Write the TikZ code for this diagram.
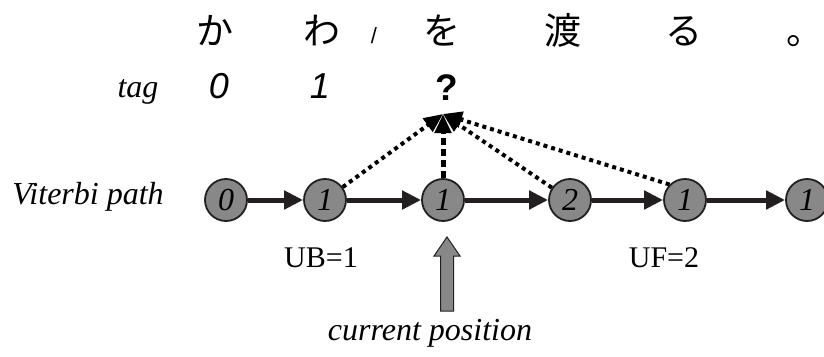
\documentclass[tikz,border=0pt]{standalone}
\usepackage{fontspec}
\setmainfont{Liberation Serif}
\setsansfont{Liberation Sans}
\newfontfamily\cjk{Noto Sans CJK JP}
\usetikzlibrary{arrows.meta}
\definecolor{statefill}{HTML}{888888}
\definecolor{edgeink}{HTML}{231F20}
\begin{document}
\begin{tikzpicture}[x=1pt,y=-1pt,
  jp/.style={anchor=base,inner sep=0pt,font=\cjk\fontsize{37}{37}\selectfont},
  tagdigit/.style={anchor=base,inner sep=0pt,font=\sffamily\itshape\fontsize{36}{36}\selectfont},
  label/.style={anchor=base,inner sep=0pt,font=\itshape\fontsize{32}{32}\selectfont},
  count/.style={anchor=base,inner sep=0pt,font=\fontsize{30}{30}\selectfont},
  state/.style={circle,draw=edgeink,line width=1.8pt,fill=statefill,minimum size=42pt,inner sep=0pt,
    font=\itshape\fontsize{32}{32}\selectfont},
  pathedge/.style={draw=edgeink,line width=5pt,-{Triangle[length=19pt,width=18pt]}},
  backoff/.style={draw=black,line width=4pt,dash pattern=on 4pt off 4pt,-{Triangle[length=19pt,width=16pt]}},
  directedge/.style={draw=black,line width=5pt,dash pattern=on 7pt off 4pt,-{Triangle[length=19pt,width=16pt]}},
  pointer/.style={draw=edgeink,line width=1pt,fill=statefill}]
\useasboundingbox (0,0) rectangle (824,356);

% sentence
\node[jp] (c1) at (215,44) {か};
\node[jp] (c2) at (322,44) {わ};
\node[anchor=base,inner sep=0pt,font=\sffamily\fontsize{22}{22}\selectfont] (sl) at (374,43) {/};
\node[jp] (c3) at (442,44) {を};
\node[jp] (c4) at (563,44) {渡};
\node[jp] (c5) at (684,44) {る};
\node[jp,anchor=base west] (c6) at (786,44) {。};

% tag row
\node[label] (tagl) at (138,97) {tag};
\node[tagdigit] (t1) at (219,98) {0};
\node[tagdigit] (t2) at (320,98) {1};
\node[anchor=base,inner sep=0pt,font=\sffamily\bfseries\fontsize{37}{37}\selectfont] (t3) at (447,100) {?};
\coordinate (tip) at (443,114);

% Viterbi path
\node[label] (vl) at (88,204) {Viterbi path};
\node[state] (s1) at (226,200) {0};
\node[state] (s2) at (325,200) {1};
\node[state] (s3) at (443,200) {1};
\node[state] (s4) at (570,200) {2};
\node[state] (s5) at (685,200) {1};
\node[state] (s6) at (807,200) {1};

\draw[pathedge] (s1) -- (s2);
\draw[pathedge] (s2) -- (s3);
\draw[pathedge] (s3) -- (s4);
\draw[pathedge] (s4) -- (s5);
\draw[pathedge] (s5) -- (s6);

\draw[backoff] (s2) -- (tip);
\draw[backoff] (s4) -- (tip);
\draw[backoff] (s5.north west) -- (tip);
\draw[directedge] (s3) -- (tip);

% window bounds
\node[count] (ub) at (321,267) {UB=1};
\node[count] (uf) at (664,267) {UF=2};

% current position marker
\coordinate (cp) at (447,237);
\draw[pointer] (cp) -- ++(13,19) -- ++(-6.5,0) -- ++(0,55) -- ++(-13,0) -- ++(0,-55) -- ++(-6.5,0) -- cycle;
\node[label] (curpos) at (430,340) {current position};
\end{tikzpicture}
\end{document}
